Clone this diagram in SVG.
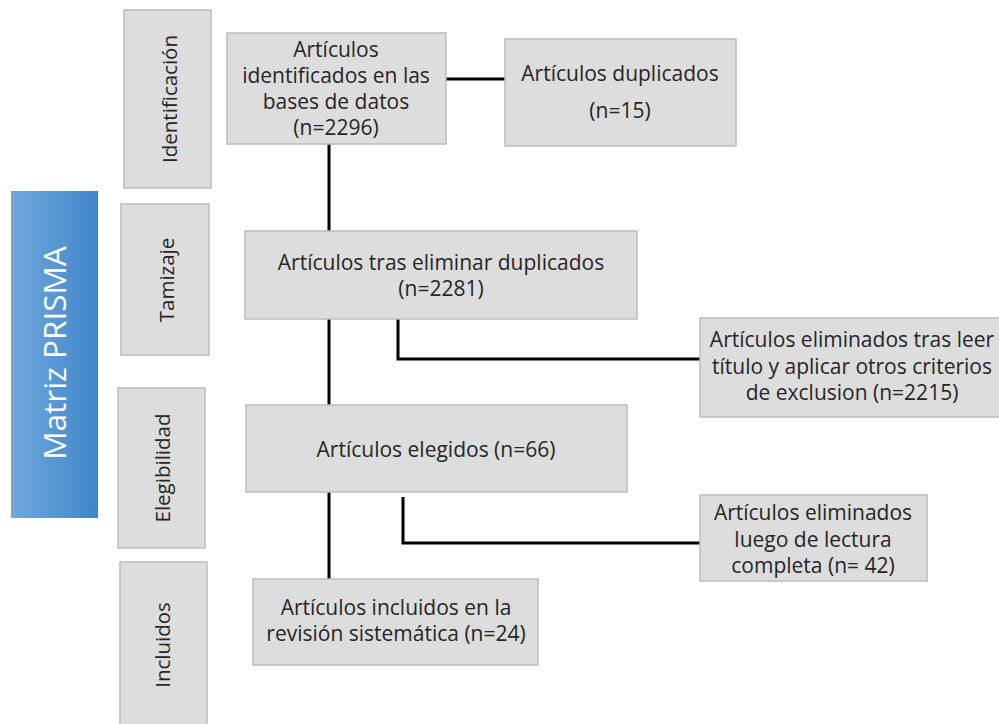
<svg xmlns="http://www.w3.org/2000/svg" width="999" height="724" viewBox="0 0 999 724">
<defs>
<linearGradient id="blue" x1="0" y1="0" x2="1" y2="0">
<stop offset="0" stop-color="#71a9de"/>
<stop offset="1" stop-color="#3f85c9"/>
</linearGradient>
</defs>
<style>
.box{fill:#dddddd;stroke:#bcbcbc;stroke-width:1.5}
.t{font-family:"Open Sans","Liberation Sans",sans-serif;font-size:21px;fill:#262626;text-anchor:middle}
.side{font-family:"Open Sans","Liberation Sans",sans-serif;font-size:20.5px;fill:#262626;text-anchor:middle}
.ln{fill:none;stroke:#000;stroke-width:3}
</style>
<rect width="999" height="724" fill="#fff"/>
<g id="matriz">
<rect x="11" y="191" width="87" height="327" fill="url(#blue)"/>
<text transform="translate(66,353) rotate(-90)" style="font-family:'Open Sans','Liberation Sans',sans-serif;font-size:31.5px;fill:#fff;text-anchor:middle">Matriz PRISMA</text>
</g>
<g id="identificacion">
<rect class="box" x="124" y="10" width="87" height="178"/>
<text class="side" transform="translate(177,99) rotate(-90)">Identificación</text>
</g>
<g id="tamizaje">
<rect class="box" x="121" y="204" width="88" height="151"/>
<text class="side" transform="translate(174,280) rotate(-90)">Tamizaje</text>
</g>
<g id="elegibilidad">
<rect class="box" x="118" y="388" width="87" height="160"/>
<text class="side" transform="translate(170,468) rotate(-90)">Elegibilidad</text>
</g>
<g id="incluidos">
<rect class="box" x="120" y="562" width="87" height="170"/>
<text class="side" transform="translate(170,645) rotate(-90)">Incluidos</text>
</g>
<g id="connectors">
<line class="ln" x1="446" y1="79" x2="505" y2="79"/>
<line class="ln" x1="329" y1="144" x2="329" y2="231"/>
<line class="ln" x1="329" y1="319" x2="329" y2="405"/>
<line class="ln" x1="329" y1="492" x2="329" y2="579"/>
<polyline class="ln" points="398,316 398,359 700,359"/>
<polyline class="ln" points="403,497 403,543 700,543"/>
</g>
<g id="n1">
<rect class="box" x="227" y="33" width="219" height="111"/>
<text class="t" x="336" y="57">Artículos</text>
<text class="t" x="336" y="83">identificados en las</text>
<text class="t" x="336" y="109">bases de datos</text>
<text class="t" x="336" y="135">(n=2296)</text>
</g>
<g id="n2">
<rect class="box" x="505" y="39" width="231" height="107"/>
<text class="t" x="620" y="81">Artículos duplicados</text>
<text class="t" x="620" y="118">(n=15)</text>
</g>
<g id="n3">
<rect class="box" x="245" y="231" width="392" height="88"/>
<text class="t" x="441" y="270">Artículos tras eliminar duplicados</text>
<text class="t" x="441" y="296">(n=2281)</text>
</g>
<g id="n4">
<rect class="box" x="700" y="318" width="305" height="99"/>
<text class="t" x="852" y="347">Artículos eliminados tras leer</text>
<text class="t" x="852" y="374">título y aplicar otros criterios</text>
<text class="t" x="852" y="400">de exclusion (n=2215)</text>
</g>
<g id="n5">
<rect class="box" x="246" y="405" width="381" height="87"/>
<text class="t" x="436" y="457">Artículos elegidos (n=66)</text>
</g>
<g id="n6">
<rect class="box" x="700" y="495" width="227" height="86"/>
<text class="t" x="813" y="520">Artículos eliminados</text>
<text class="t" x="813" y="547">luego de lectura</text>
<text class="t" x="813" y="573">completa (n= 42)</text>
</g>
<g id="n7">
<rect class="box" x="253" y="579" width="285" height="86"/>
<text class="t" x="396" y="615">Artículos incluidos en la</text>
<text class="t" x="396" y="641">revisión sistemática (n=24)</text>
</g>
</svg>
